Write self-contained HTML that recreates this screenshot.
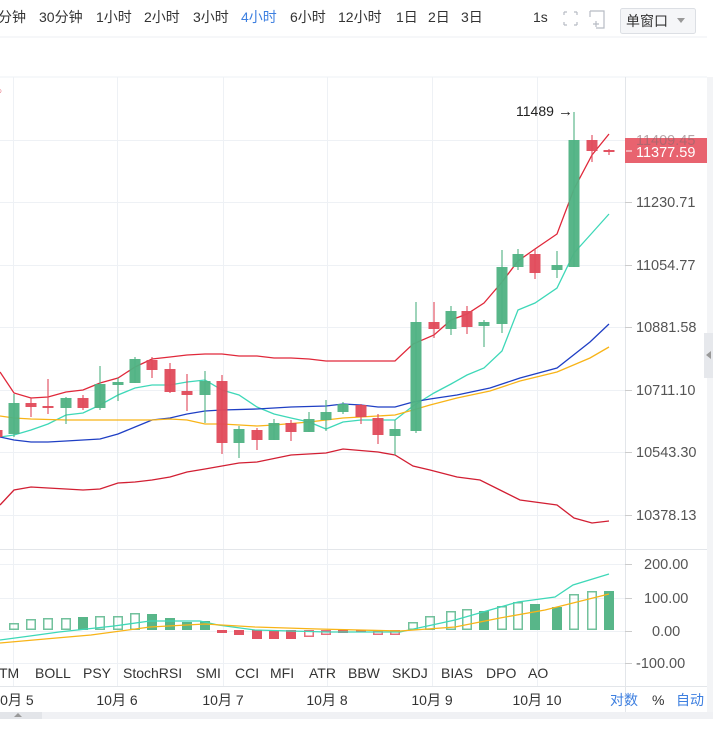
<!DOCTYPE html>
<html><head><meta charset="utf-8">
<style>
html,body{margin:0;padding:0;background:#fff;}
body{width:713px;height:738px;overflow:hidden;position:relative;font-family:"Liberation Sans","Noto Sans CJK SC",sans-serif;}
svg{position:absolute;left:0;top:0;}
</style></head>
<body>
<svg id="s" width="713" height="738" xmlns="http://www.w3.org/2000/svg" font-family="Liberation Sans, Noto Sans CJK SC, sans-serif">
<rect width="713" height="738" fill="#fff"/>
<line x1="0" y1="37" x2="707" y2="37" stroke="#eceff3"/>
<g font-size="14" fill="#333">
<text x="-2" y="22">分钟</text><text x="39" y="22">30分钟</text><text x="96" y="22">1小时</text><text x="144" y="22">2小时</text><text x="193" y="22">3小时</text>
<text x="241" y="22" fill="#3d7fe0">4小时</text><text x="290" y="22">6小时</text><text x="338" y="22">12小时</text><text x="396" y="22">1日</text><text x="428" y="22">2日</text><text x="461" y="22">3日</text>
<text x="533" y="22">1s</text>
</g>
<g stroke="#b8bcc4" stroke-width="1.2" fill="none">
<path d="M564 12h3M564 12v3M577 12h-3M577 12v3M564 25h3M564 25v-3M577 25h-3M577 25v-3"/>
<path d="M590 11h14v17h-8M590 11v6"/><path d="M593 24h6M596 21v6"/>
</g>
<rect x="620.5" y="8.5" width="75" height="25" fill="#f5f6f8" stroke="#dcdfe4" rx="2"/>
<text x="626" y="26" font-size="14" fill="#333">单窗口</text>
<path d="M677 18l4 5 4-5z" fill="#999"/>
<line x1="0" y1="77" x2="707" y2="77" stroke="#eef1f5"/>
<text x="-4" y="94" font-size="10" fill="#e0495a">○</text>
<g id="grid" stroke="#eef1f5" stroke-width="1"></g>
<g id="lines" fill="none" stroke-width="1.3"></g>
<g id="cand"></g>
<g id="sub"></g>
<line x1="625.5" y1="77" x2="625.5" y2="712" stroke="#e3e6ea"/>
<line x1="0" y1="549.5" x2="707" y2="549.5" stroke="#e3e6ea"/>
<line x1="0" y1="686.5" x2="707" y2="686.5" stroke="#e3e6ea"/>
<g font-size="14.5" fill="#555" id="ax"></g>
<rect x="625" y="138" width="82" height="25" fill="#e8636f"/>
<text x="636" y="145" font-size="14.5" fill="#8a6a70" opacity="0.6">11409.45</text>
<line x1="626" y1="151" x2="632" y2="151" stroke="#fff"/>
<text x="636" y="157" font-size="14.5" fill="#fff">11377.59</text>
<text x="516" y="116" font-size="14" fill="#222">11489</text>
<text x="558" y="116" font-size="15" fill="#222">→</text>
<g font-size="14" fill="#333">
<text x="-1" y="678">TM</text><text x="35" y="678">BOLL</text><text x="83" y="678">PSY</text><text x="123" y="678">StochRSI</text><text x="196" y="678">SMI</text><text x="235" y="678">CCI</text><text x="270" y="678">MFI</text><text x="309" y="678">ATR</text><text x="348" y="678">BBW</text><text x="392" y="678">SKDJ</text><text x="441" y="678">BIAS</text><text x="486" y="678">DPO</text><text x="528" y="678">AO</text>
</g>
<g font-size="14" fill="#333" text-anchor="middle">
<text x="13" y="705">10月 5</text><text x="117" y="705">10月 6</text><text x="223" y="705">10月 7</text><text x="327" y="705">10月 8</text><text x="432" y="705">10月 9</text><text x="537" y="705">10月 10</text>
</g>
<g font-size="14" fill="#3d7fe0"><text x="610" y="705">对数</text><text x="676" y="705">自动</text></g>
<text x="652" y="705" font-size="14" fill="#333">%</text>
<rect x="707" y="77" width="6" height="635" fill="#f3f4f6"/>
<rect x="704" y="333" width="9" height="45" fill="#e6e8ec"/>
<path d="M706 355l5-4v8z" fill="#999"/>
<rect x="0" y="712" width="713" height="7" fill="#f0f1f4"/>
<rect x="0" y="712" width="42" height="7" fill="#e3e5e9"/>
<path d="M14 717l4-4 4 4z" fill="#999"/>
</svg>
<script>
var NS="http://www.w3.org/2000/svg";
function el(p,t,a){var e=document.createElementNS(NS,t);for(var k in a)e.setAttribute(k,a[k]);document.getElementById(p).appendChild(e);return e;}
[13,117,223,327,432,537].forEach(function(x){el('grid','line',{x1:x+.5,y1:77,x2:x+.5,y2:686});});
[140,202,265,327,390,452,515,564,598,631,663].forEach(function(y){el('grid','line',{x1:0,y1:y+.5,x2:625,y2:y+.5});});
var pl=[[140,"11409.45"],[202,"11230.71"],[265,"11054.77"],[327,"10881.58"],[390,"10711.10"],[452,"10543.30"],[515,"10378.13"],[564,"200.00"],[598,"100.00"],[631,"0.00"],[663,"-100.00"]];
pl.forEach(function(p){if(p[0]!=140){var x=p[0]>550?(p[1].length==6?644:(p[1].length==4?652:636)):636;var t=el('ax','text',{x:x,y:p[0]+5});t.textContent=p[1];}
el('ax','line',{x1:625,y1:p[0]+.5,x2:632,y2:p[0]+.5,stroke:"#ccc"});});
function pts(a){return a.map(function(p){return p.join(',')}).join(' ');}
var L=[
["#e0283a",[[0,372],[14,393],[31,398],[48,397],[66,392],[83,390],[100,383],[118,378],[135,367],[152,359],[170,357],[187,355],[205,354],[222,354],[239,356],[257,356],[274,358],[291,358],[309,359],[326,361],[343,361],[361,361],[378,361],[395,361],[413,344],[434,335],[451,320],[467,314],[484,303],[502,282],[518,261],[535,249],[557,234],[574,189],[592,155],[609,134]]],
["#d21f33",[[0,505],[14,490],[31,487],[48,488],[66,489],[83,490],[100,489],[118,483],[135,482],[152,480],[170,477],[187,472],[205,469],[222,466],[239,463],[257,462],[291,455],[326,453],[343,449],[378,452],[395,455],[413,466],[430,470],[457,477],[480,480],[500,490],[520,500],[557,505],[574,518],[592,523],[609,521]]],
["#3ed8b8",[[0,437],[14,435],[31,430],[48,424],[66,415],[83,413],[100,405],[118,395],[135,388],[152,385],[170,385],[187,382],[205,380],[222,390],[239,395],[257,407],[274,414],[291,418],[309,422],[326,429],[343,422],[361,420],[378,420],[395,420],[413,406],[434,393],[451,384],[467,375],[484,368],[502,351],[518,310],[535,303],[557,288],[574,253],[592,233],[609,214]]],
["#1f3fc4",[[0,437],[14,440],[31,442],[48,442],[66,441],[83,440],[100,439],[118,434],[135,427],[152,420],[170,418],[187,414],[205,411],[222,410],[257,409],[291,407],[326,406],[343,404],[361,405],[378,407],[395,407],[413,402],[430,399],[457,395],[490,388],[520,378],[557,368],[590,342],[609,324]]],
["#f8b418",[[0,416],[14,418],[31,419],[66,420],[100,420],[152,420],[170,419],[187,420],[205,424],[222,424],[257,426],[274,425],[309,422],[343,418],[378,416],[395,415],[413,410],[430,405],[457,398],[490,391],[520,381],[557,372],[590,358],[609,347]]]
];
L.forEach(function(l){el('lines','polyline',{points:pts(l[1]),stroke:l[0]});});
var G="#4fb283",R="#e04a5a";
var C=[[-3,R,430,437,428,440],[14,G,403,434,394,437],[31,R,403,407,398,417],[48,R,406,408,379,414],[66,G,398,408,397,424],[83,R,398,408,395,410],[100,G,384,408,366,410],[118,G,382,385,378,401],[135,G,359,383,357,383],[152,R,360,370,357,378],[170,R,369,392,363,393],[187,R,391,395,374,411],[205,G,381,395,371,423],[222,R,381,443,375,454],[239,G,429,443,426,458],[257,R,430,440,428,450],[274,G,423,440,419,440],[291,R,423,432,420,441],[309,G,419,432,412,432],[326,G,412,420,400,431],[343,G,404,412,402,414],[361,R,405,417,404,424],[378,R,418,435,414,444],[395,G,429,436,420,455],[416,G,322,431,302,433],[434,R,322,329,302,338],[451,G,311,329,306,335],[467,R,311,327,306,334],[484,G,322,326,320,347],[502,G,267,324,250,333],[518,G,254,267,249,270],[535,R,254,273,249,279],[557,G,265,270,251,278],[574,G,140,267,112,267],[592,R,140,151,135,162],[609,R,150,152,149,155]];
C.forEach(function(c){el('cand','line',{x1:c[0],y1:c[4],x2:c[0],y2:c[5],stroke:c[1],"stroke-width":1.3,opacity:.85});
el('cand','rect',{x:c[0]-5.5,y:c[2],width:11,height:Math.max(1.5,c[3]-c[2]),fill:c[1],opacity:.95});});
var Z=630;
var H=[[14,623,'h'],[31,619,'h'],[48,618,'h'],[66,618,'h'],[83,617,'f'],[100,616,'h'],[118,616,'h'],[135,613,'h'],[152,614,'f'],[170,618,'f'],[187,622,'f'],[205,621,'f'],[222,633,'rf'],[239,635,'rf'],[257,639,'rf'],[274,639,'rf'],[291,639,'rf'],[309,637,'rh'],[326,635,'rh'],[343,633,'rf'],[361,632,'rf'],[378,635,'rh'],[395,635,'rh'],[413,622,'h'],[430,616,'h'],[451,611,'h'],[467,609,'h'],[484,611,'f'],[502,606,'h'],[518,602,'h'],[535,604,'f'],[557,607,'f'],[574,594,'h'],[592,591,'h'],[609,591,'f']];
H.forEach(function(h){var x=h[0]-5,w=10,top=Math.min(h[1],Z),ht=Math.abs(h[1]-Z);var col=h[2][0]=='r'?R:G;
if(h[2].indexOf('f')>=0)el('sub','rect',{x:x,y:top,width:w,height:ht,fill:col,opacity:.95});
else el('sub','rect',{x:x+.75,y:top+.75,width:w-1.5,height:Math.max(0,ht-1.5),fill:"none",stroke:col,"stroke-width":1.5,opacity:.8});});
el('sub','polyline',{points:pts([[0,640],[30,636],[59,632],[114,626],[150,621],[200,621],[218,625],[255,630],[327,632],[400,632],[409,630],[455,620],[518,602],[555,597],[573,585],[609,574]]),fill:"none",stroke:"#3ed8b8","stroke-width":1.3});
el('sub','polyline',{points:pts([[0,643],[45,639],[91,635],[150,627],[205,624],[255,627],[318,629],[400,631],[455,627],[500,618],[545,610],[573,603],[609,594]]),fill:"none",stroke:"#f8b418","stroke-width":1.3});
</script>
</body></html>
